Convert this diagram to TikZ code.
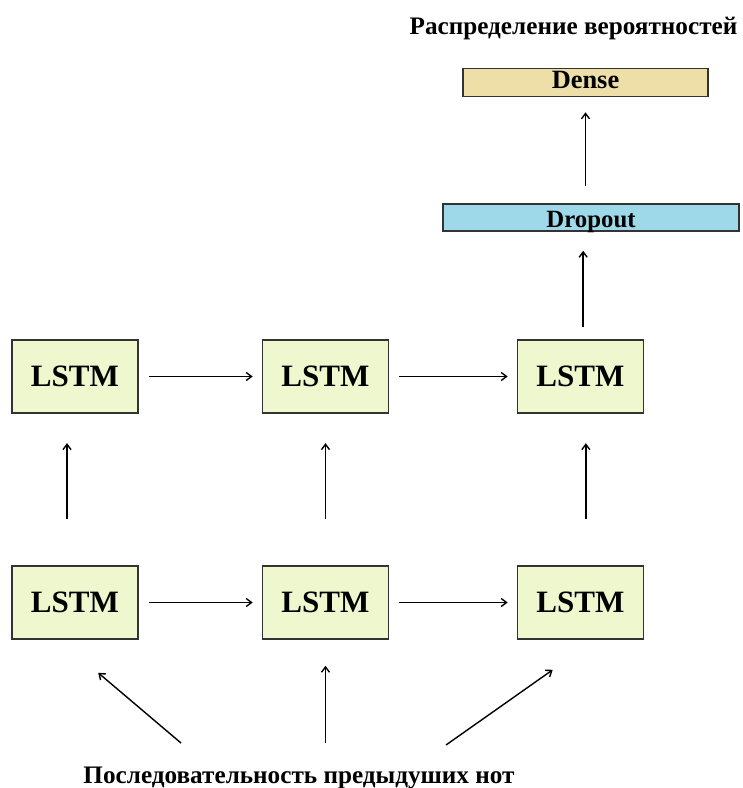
\documentclass[tikz,border=0pt]{standalone}
\usepackage{fontspec}
\setmainfont{Liberation Serif}
\usetikzlibrary{arrows.meta}

\definecolor{lstmfill}{HTML}{EFF7CF}
\definecolor{densefill}{HTML}{EEDFA8}
\definecolor{dropfill}{HTML}{9DD9E8}
\definecolor{boxline}{HTML}{333333}

\begin{document}
\begin{tikzpicture}[x=0.75pt,y=-0.75pt,
  cell/.style={draw=boxline,line width=1.2pt,fill=lstmfill,minimum width=94.5pt,minimum height=54.75pt,inner sep=0pt,text height=15.4pt,text depth=0pt,font=\fontsize{23.3}{26}\selectfont\bfseries},
  layer/.style={draw=boxline,line width=1.2pt,inner sep=0pt,text depth=0pt},
  flow/.style={-{Straight Barb[length=4pt,width=6pt]},line width=1.05pt},
  caption/.style={inner sep=0pt,text height=12.4pt,text depth=0pt,font=\fontsize{18.9}{22}\selectfont\bfseries}]

 \useasboundingbox (0,0) rectangle (742,788);

% output part
 \node[caption] (probs) at (573.5,26.5) {Распределение вероятностей};
 \node[layer,fill=densefill,minimum width=183.75pt,minimum height=21pt,text height=9.3pt,font=\fontsize{19.8}{22}\selectfont\bfseries] (dense) at (585.5,82.5) {Dense};
 \node[layer,fill=dropfill,minimum width=222pt,minimum height=20.25pt,text height=15.3pt,font=\fontsize{18.6}{22}\selectfont\bfseries] (drop) at (591,217.5) {Dropout};

% two rows of LSTM cells
 \foreach \i/\x in {1/75,2/325.5,3/580.5} {
   \node[cell] (u\i) at (\x,376.5) {LSTM}; % upper row
   \node[cell] (d\i) at (\x,602.5) {LSTM}; % lower row
 }

% along each row
 \foreach \a/\b in {u1/u2,u2/u3,d1/d2,d2/d3}
   \draw[flow,shorten <=7.5pt,shorten >=6.75pt] (\a.east) -- (\b.west);

% lower row to upper row
 \foreach \i/\dx in {1/-6pt,2/0pt,3/4pt}
   \draw[flow,shorten <=35pt,shorten >=22pt] ([xshift=\dx]d\i.north) -- ([xshift=\dx]u\i.south);

 \draw[flow,shorten <=9pt,shorten >=14.25pt] ([xshift=2pt]u3.north) -- ([xshift=2pt]u3.north |- drop.south);
 \draw[flow,shorten <=12.75pt,shorten >=11.25pt] (dense.south |- drop.north) -- (dense.south);

% input sequence
 \node[caption] (seq) at (299,775.5) {Последовательность предыдуших нот};
 \coordinate (s1) at (181,743);
 \coordinate (s2) at (325.5,743);
 \coordinate (s3) at (446,745);
 \draw[flow] (s1) -- ([shift={(87,33)}]d1.south west);
 \draw[flow,shorten >=19.5pt] (s2) -- (d2.south);
 \draw[flow] (s3) -- ([shift={(36,30)}]d3.south west);

\end{tikzpicture}
\end{document}
